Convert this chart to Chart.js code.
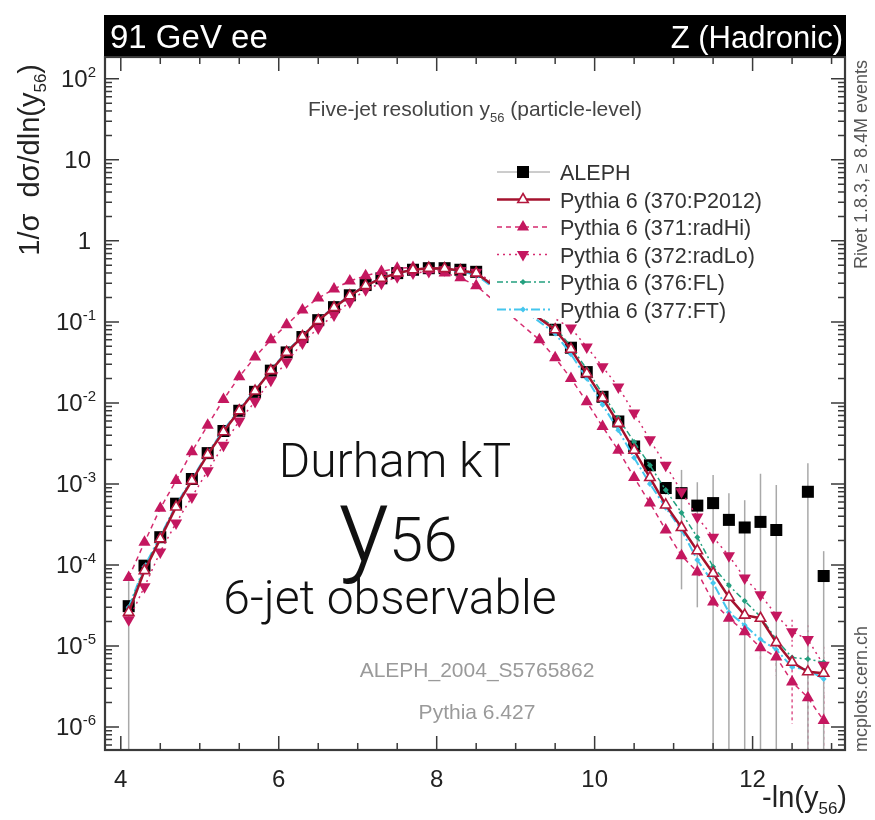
<!DOCTYPE html>
<html>
<head>
<meta charset="utf-8">
<title>Durham kT y56</title>
<script src="https://cdn.jsdelivr.net/npm/chart.js@4.4.0/dist/chart.umd.min.js"></script>
<style>
  html, body { margin: 0; padding: 0; background: #fff; }
  #wrap { width: 875px; height: 820px; }
</style>
</head>
<body>
<div id="wrap"><canvas id="chart" width="875" height="820"></canvas></div>
<script>
// bin centres in -ln(y56)
const binCentres = [4.1, 4.3, 4.5, 4.7, 4.9, 5.1, 5.3, 5.5, 5.7, 5.9, 6.1, 6.3, 6.5, 6.7, 6.9,
  7.1, 7.3, 7.5, 7.7, 7.9, 8.1, 8.3, 8.5, 8.7, 8.9, 9.1, 9.3, 9.5, 9.7, 9.9,
  10.1, 10.3, 10.5, 10.7, 10.9, 11.1, 11.3, 11.5, 11.7, 11.9, 12.1, 12.3, 12.5, 12.7, 12.9];

const alephVals = [3.1e-5, 9.8e-5, 2.2e-4, 5.7e-4, 1.15e-3, 2.4e-3, 4.5e-3, 8.0e-3, 1.37e-2, 2.5e-2,
  4.2e-2, 6.5e-2, 0.105, 0.152, 0.213, 0.285, 0.345, 0.40, 0.44, 0.46, 0.46, 0.44, 0.415,
  null, null, null, null,
  0.080, 0.048, 0.024, 0.0119, 5.9e-3, 2.9e-3, 1.7e-3, 8.9e-4, 7.7e-4, 5.4e-4, 5.8e-4,
  3.6e-4, 2.9e-4, 3.4e-4, 2.7e-4, null, 8.0e-4, 7.3e-5];
const alephErr = [3.2e-5, 1.2e-5, 1.5e-5, 2.5e-5, 4e-5, 6e-5, 1e-4, 1.6e-4, 2.5e-4, 4e-4,
  6e-4, 9e-4, 1.3e-3, 1.8e-3, 2.4e-3, 3.0e-3, 3.5e-3, 4e-3, 4.5e-3, 4.8e-3, 5e-3, 5e-3, 5e-3,
  null, null, null, null,
  1.5e-3, 1.0e-3, 6e-4, 3.5e-4, 2.2e-4, 1.4e-4, 1.2e-4, 1.5e-4, 7.2e-4, 5.1e-4, 7.1e-4,
  4.1e-4, 3.4e-4, 1.0e-3, 7.0e-4, null, 1.0e-3, 7.5e-5];

const p2012Vals = [2.6e-5, 8.5e-5, 2.1e-4, 5.2e-4, 1.1e-3, 2.3e-3, 4.4e-3, 8.0e-3, 0.014, 0.025,
  0.042, 0.066, 0.104, 0.150, 0.210, 0.280, 0.345, 0.40, 0.44, 0.46, 0.455, 0.43, 0.40,
  null, null, null, null,
  0.080, 0.046, 0.023, 0.0115, 5.6e-3, 2.6e-3, 1.2e-3, 5.5e-4, 2.9e-4, 1.5e-4, 7.9e-5,
  4.0e-5, 2.4e-5, 2.2e-5, 1.1e-5, 6.3e-6, 4.8e-6, 4.6e-6];
const radHiVals = [7e-5, 1.9e-4, 5.0e-4, 1.1e-3, 2.5e-3, 5.3e-3, 0.011, 0.021, 0.037, 0.060,
  0.092, 0.14, 0.197, 0.255, 0.32, 0.37, 0.42, 0.46, 0.47, 0.44, 0.40, 0.35, 0.28,
  null, null, null, 0.060,
  0.036, 0.020, 0.0103, 5.1e-3, 2.6e-3, 1.2e-3, 5.8e-4, 2.7e-4, 1.3e-4, 8.2e-5, 3.5e-5,
  2.2e-5, 1.5e-5, 9.5e-6, 7.3e-6, 3.6e-6, 2.3e-6, 1.2e-6];
const radLoVals = [2.1e-5, 5.4e-5, 1.45e-4, 3.3e-4, 6.9e-4, 1.45e-3, 3.0e-3, 6.0e-3, 0.0104, 0.019,
  0.032, 0.055, 0.084, 0.122, 0.177, 0.25, 0.30, 0.36, 0.40, 0.42, 0.44, 0.43, 0.41,
  null, null, null, null, null,
  0.084, 0.049, 0.028, 0.0157, 7.5e-3, 3.5e-3, 1.7e-3, 8.0e-4, 3.9e-4, 2.2e-4,
  1.3e-4, 6.9e-5, 4.3e-5, 2.4e-5, 1.5e-5, 1.2e-5, 5.8e-6];
const flVals = [2.9e-5, 9.2e-5, 2.2e-4, 5.4e-4, 1.12e-3, 2.35e-3, 4.5e-3, 8.2e-3, 0.0142, 0.0255,
  0.043, 0.067, 0.105, 0.151, 0.211, 0.28, 0.345, 0.40, 0.44, 0.455, 0.45, 0.425, 0.39,
  null, null, null, null,
  0.085, 0.050, 0.026, 0.013, 6.5e-3, 3.3e-3, 1.7e-3, 8.4e-4, 4.4e-4, 2.2e-4, 9.5e-5,
  5.6e-5, 3.6e-5, 2.3e-5, 1.2e-5, 7.2e-6, 6.9e-6, 6.3e-6];
const ftVals = [3.0e-5, 9.6e-5, 2.25e-4, 5.5e-4, 1.15e-3, 2.4e-3, 4.6e-3, 8.3e-3, 0.0143, 0.0255,
  0.043, 0.067, 0.106, 0.153, 0.213, 0.283, 0.348, 0.40, 0.44, 0.46, 0.455, 0.42, 0.38,
  null, null, null, null,
  0.072, 0.040, 0.020, 9.5e-3, 4.6e-3, 2.1e-3, 1.0e-3, 5.1e-4, 2.7e-4, 1.15e-4, 6e-5,
  2.6e-5, 1.8e-5, 1.2e-5, 9e-6, 5.5e-6, 5.1e-6, 3.9e-6];

// statistical errors of the variations, only large enough to see in the tail
const radHiErr = [...Array(40).fill(null), 3e-6, 3e-6, 2.5e-6, 2.0e-6, 1.3e-6];
const radLoErr = [...Array(42).fill(null), 6e-6, 6e-6, 4e-6];

const xTickLabels = [4, 6, 8, 10, 12];
const yDecades = [-6, -5, -4, -3, -2, -1, 0, 1, 2];

const FONT = '"Liberation Sans", Arial, Helvetica, sans-serif';
const THIN = '"Roboto", "Lato", "Liberation Sans", sans-serif';

const pts = vals => binCentres.map((x, i) => ({ x: x, y: vals[i] }));

// line styles of the generator curves, shared by chart and key
const styles = {
  p2012: { color: '#a5122e', mark: '#b3173d', dash: [], lw: 2.5, point: 'triangle', r: 6, rot: 0, fill: '#ffffff', bw: 1.6 },
  radHi: { color: '#d52b6f', mark: '#c4175f', dash: [5, 4], lw: 1.5, point: 'triangle', r: 7, rot: 0, fill: '#c4175f', bw: 0 },
  radLo: { color: '#d52b6f', mark: '#c4175f', dash: [2, 4], lw: 1.5, point: 'triangle', r: 7, rot: 180, fill: '#c4175f', bw: 0 },
  fl:    { color: '#23a07f', mark: '#23a07f', dash: [6, 3, 2, 3], lw: 1.5, point: 'rectRot', r: 3, rot: 0, fill: '#23a07f', bw: 0 },
  ft:    { color: '#45c6ee', mark: '#45c6ee', dash: [9, 3, 2, 3], lw: 2, point: 'rectRot', r: 3, rot: 0, fill: '#45c6ee', bw: 0 }
};

function mcSet(label, vals, s) {
  return {
    label: label, data: pts(vals), showLine: true, spanGaps: true, tension: 0,
    borderColor: s.color, borderWidth: s.lw, borderDash: s.dash,
    pointStyle: s.point, pointRadius: s.r, pointRotation: s.rot,
    pointBackgroundColor: s.fill, pointBorderColor: s.mark, pointBorderWidth: s.bw
  };
}

// text made of pieces [text, size, dy, weight], laid out left to right
function richText(ctx, parts, x, y, align, family) {
  family = family || FONT;
  let w = 0;
  parts.forEach(p => { ctx.font = (p[3] || '') + ' ' + p[1] + 'px ' + family; w += ctx.measureText(p[0]).width; });
  let cx = align === 'right' ? x - w : align === 'center' ? x - w / 2 : x;
  ctx.textAlign = 'left';
  ctx.textBaseline = 'alphabetic';
  parts.forEach(p => {
    ctx.font = (p[3] || '') + ' ' + p[1] + 'px ' + family;
    ctx.fillText(p[0], cx, y + (p[2] || 0));
    cx += ctx.measureText(p[0]).width;
  });
}

// vertical error bars, clipped to the frame; a bar reaching zero runs to the bottom
function errorBars(ctx, a, x, y, vals, errs) {
  binCentres.forEach((xv, i) => {
    const v = vals[i], e = errs[i];
    if (v == null || e == null) return;
    const px = x.getPixelForValue(xv);
    const top = y.getPixelForValue(v + e);
    const bot = v - e > 0 ? y.getPixelForValue(v - e) : a.bottom;
    ctx.beginPath();
    ctx.moveTo(px, top);
    ctx.lineTo(px, bot);
    ctx.stroke();
  });
}

const legendRows = [
  { label: 'ALEPH', s: null },
  { label: 'Pythia 6 (370:P2012)', s: styles.p2012 },
  { label: 'Pythia 6 (371:radHi)', s: styles.radHi },
  { label: 'Pythia 6 (372:radLo)', s: styles.radLo },
  { label: 'Pythia 6 (376:FL)', s: styles.fl },
  { label: 'Pythia 6 (377:FT)', s: styles.ft }
];

const rootFrame = {
  id: 'rootFrame',
  beforeDatasetsDraw(chart) {
    const { ctx, chartArea: a, scales: { x, y } } = chart;
    ctx.save();
    ctx.beginPath();
    ctx.rect(a.left, a.top, a.right - a.left, a.bottom - a.top);
    ctx.clip();
    ctx.lineWidth = 1.2;
    ctx.strokeStyle = '#d52b6f';
    ctx.setLineDash([3, 3]);
    errorBars(ctx, a, x, y, radHiVals, radHiErr);
    ctx.setLineDash([2, 3]);
    errorBars(ctx, a, x, y, radLoVals, radLoErr);
    ctx.setLineDash([]);
    ctx.strokeStyle = '#a9a9a9';
    ctx.lineWidth = 1.5;
    errorBars(ctx, a, x, y, alephVals, alephErr);
    ctx.restore();
  },
  afterDatasetsDraw(chart) {
    const { ctx, chartArea: a, scales: { x, y } } = chart;
    const H = Chart.helpers;
    ctx.save();

    // key with white background over the curves
    ctx.fillStyle = '#fff';
    ctx.fillRect(490, 158, 300, 160);
    legendRows.forEach((row, i) => {
      const ly = 172 + i * 27.5;
      ctx.save();
      if (!row.s) {
        ctx.strokeStyle = '#9a9a9a'; ctx.lineWidth = 1; ctx.setLineDash([]);
        ctx.beginPath(); ctx.moveTo(497, ly); ctx.lineTo(550, ly); ctx.stroke();
        ctx.fillStyle = '#000'; ctx.strokeStyle = '#000';
        H.drawPoint(ctx, { pointStyle: 'rect', radius: 8.5, rotation: 0, borderWidth: 0 }, 523, ly);
      } else {
        const s = row.s;
        ctx.strokeStyle = s.color; ctx.lineWidth = s.lw; ctx.setLineDash(s.dash);
        ctx.beginPath(); ctx.moveTo(497, ly); ctx.lineTo(550, ly); ctx.stroke();
        ctx.setLineDash([]);
        ctx.fillStyle = s.fill; ctx.strokeStyle = s.mark; ctx.lineWidth = s.bw;
        H.drawPoint(ctx, { pointStyle: s.point, radius: s.r, rotation: s.rot, borderWidth: s.bw }, 523, ly);
      }
      ctx.restore();
      ctx.fillStyle = '#333';
      richText(ctx, [[row.label, 21.5]], 560, ly + 8, 'left');
    });

    // frame with inward ticks on all four sides
    ctx.strokeStyle = '#3a3a3a';
    ctx.lineWidth = 1.5;
    ctx.setLineDash([]);
    for (let t = 4; t <= 13.001; t += 0.5) {
      const px = x.getPixelForValue(t);
      const len = Math.abs(t % 2) < 1e-6 ? 14 : 7;
      ctx.beginPath();
      ctx.moveTo(px, a.bottom); ctx.lineTo(px, a.bottom - len);
      ctx.moveTo(px, a.top); ctx.lineTo(px, a.top + len);
      ctx.stroke();
    }
    for (let k = -7; k <= 2; k++) {
      for (let m = 1; m <= 9; m++) {
        const v = m * Math.pow(10, k);
        if (v < y.min || v > y.max) continue;
        const py = y.getPixelForValue(v);
        const len = m === 1 ? 14 : 7;
        ctx.beginPath();
        ctx.moveTo(a.left, py); ctx.lineTo(a.left + len, py);
        ctx.moveTo(a.right, py); ctx.lineTo(a.right - len, py);
        ctx.stroke();
      }
    }
    ctx.lineWidth = 2.2;
    ctx.strokeRect(a.left, a.top, a.right - a.left, a.bottom - a.top);

    // decade labels on the log axis
    ctx.fillStyle = '#222';
    yDecades.forEach(k => {
      const py = y.getPixelForValue(Math.pow(10, k)) + 8;
      if (k === 0) richText(ctx, [['1', 24]], 91, py, 'right');
      else if (k === 1) richText(ctx, [['10', 24]], 91, py, 'right');
      else richText(ctx, [['10', 24], [String(k), 15, -10]], 96, py, 'right');
    });

    // banner
    ctx.fillStyle = '#000';
    ctx.fillRect(104, 15, 742, 41);
    ctx.fillStyle = '#fff';
    richText(ctx, [['91 GeV ee', 33]], 110, 48, 'left');
    richText(ctx, [['Z (Hadronic)', 31]], 843, 48, 'right');

    // captions inside the frame
    ctx.fillStyle = '#444';
    richText(ctx, [['Five-jet resolution y', 21], ['56', 13, 6], [' (particle-level)', 21]], 475, 116, 'center');
    ctx.fillStyle = '#9a9a9a';
    richText(ctx, [['ALEPH_2004_S5765862', 21]], 477, 677, 'center');
    richText(ctx, [['Pythia 6.427', 21]], 477, 719, 'center');

    // axis titles
    ctx.fillStyle = '#222';
    richText(ctx, [['-ln(y', 29], ['56', 17, 7], [')', 29]], 847, 807, 'right');
    ctx.save();
    ctx.translate(39, 64);
    ctx.rotate(-Math.PI / 2);
    richText(ctx, [['1/\u03c3  d\u03c3/dln(y', 29], ['56', 17, 7], [')', 29]], 0, 0, 'right');
    ctx.restore();

    // side notes
    ctx.fillStyle = '#555';
    ctx.save();
    ctx.translate(867, 60);
    ctx.rotate(-Math.PI / 2);
    richText(ctx, [['Rivet 1.8.3, \u2265 8.4M events', 18]], 0, 0, 'right');
    ctx.restore();
    ctx.save();
    ctx.translate(867, 752);
    ctx.rotate(-Math.PI / 2);
    richText(ctx, [['mcplots.cern.ch', 18]], 0, 0, 'left');
    ctx.restore();

    // observable label
    ctx.fillStyle = '#111';
    richText(ctx, [['Durham kT', 48, 0, '300']], 395, 477, 'center', THIN);
    richText(ctx, [['y', 106, 0, '300'], ['56', 62, 0, '300']], 398, 561, 'center', THIN);
    richText(ctx, [['6-jet observable', 48, 0, '300']], 390, 614, 'center', THIN);

    ctx.restore();
  }
};

new Chart(document.getElementById('chart'), {
  type: 'line',
  data: {
    datasets: [
      mcSet('Pythia 6 (370:P2012)', p2012Vals, styles.p2012),
      mcSet('Pythia 6 (371:radHi)', radHiVals, styles.radHi),
      mcSet('Pythia 6 (372:radLo)', radLoVals, styles.radLo),
      mcSet('Pythia 6 (376:FL)', flVals, styles.fl),
      mcSet('Pythia 6 (377:FT)', ftVals, styles.ft),
      {
        label: 'ALEPH', data: pts(alephVals), showLine: false,
        pointStyle: 'rect', pointRadius: 8.5, pointBorderWidth: 0,
        pointBackgroundColor: '#000', pointBorderColor: '#000'
      }
    ]
  },
  options: {
    responsive: false,
    animation: false,
    devicePixelRatio: 1,
    layout: { padding: { top: 57, right: 30, left: 0, bottom: 0 } },
    plugins: { legend: { display: false }, tooltip: { enabled: false } },
    scales: {
      x: {
        type: 'linear', min: 3.8, max: 13.17,
        grid: { display: false }, border: { display: false },
        afterBuildTicks: s => { s.ticks = xTickLabels.map(v => ({ value: v })); },
        afterFit: s => { s.height = 70; },
        ticks: {
          autoSkip: false, maxRotation: 0, padding: 8, color: '#222',
          font: { family: FONT, size: 24 }
        }
      },
      y: {
        type: 'logarithmic', min: 5.2e-7, max: 186,
        grid: { display: false }, border: { display: false },
        ticks: { display: false },
        afterFit: s => { s.width = 105; }
      }
    }
  },
  plugins: [rootFrame]
});
</script>
</body>
</html>
